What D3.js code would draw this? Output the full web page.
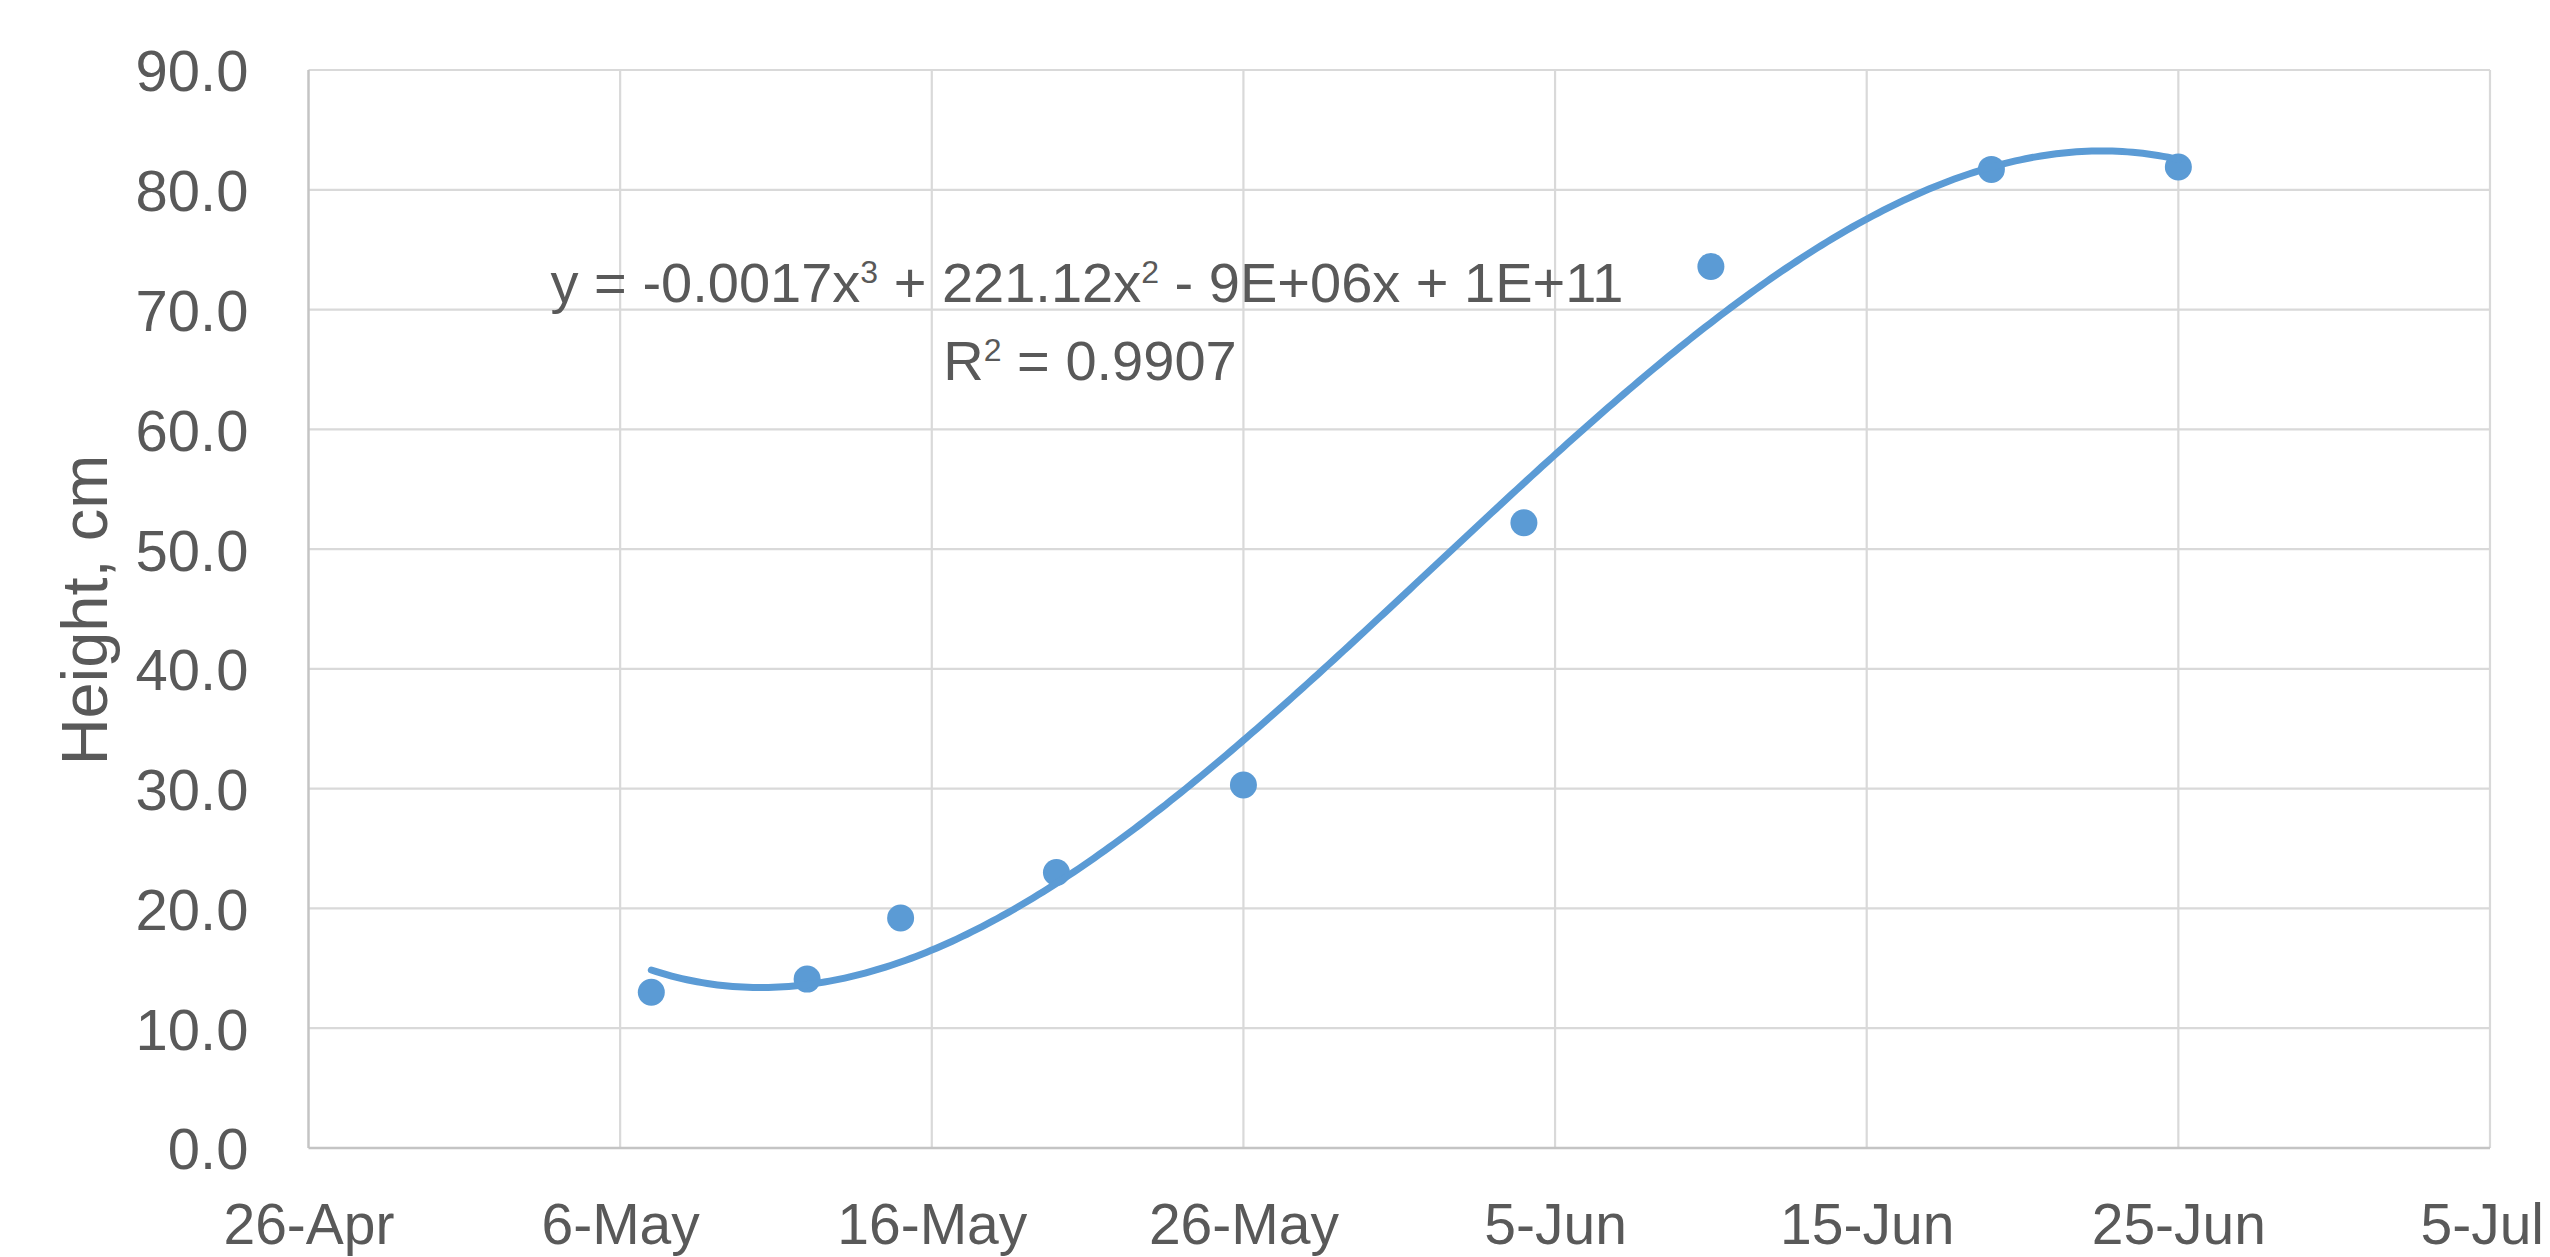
<!DOCTYPE html>
<html>
<head>
<meta charset="utf-8">
<script src="https://cdn.jsdelivr.net/npm/d3@7"></script>
<style>
  html, body { margin: 0; padding: 0; background: #fff; }
  svg { display: block; }
  text { font-family: "Liberation Sans", Arial, sans-serif; fill: #595959; }
</style>
</head>
<body>
<svg id="chart" width="2550" height="1257"></svg>
<script>
// ---- data ----
const dates = ["2019-05-07", "2019-05-12", "2019-05-15", "2019-05-20", "2019-05-26",
               "2019-06-04", "2019-06-10", "2019-06-19", "2019-06-25"];
const heights = [13.0, 14.1, 19.2, 23.0, 30.3, 52.2, 73.6, 81.7, 81.9];
const yTicks = [0, 10, 20, 30, 40, 50, 60, 70, 80, 90];
const xTickDates = ["2019-04-26", "2019-05-06", "2019-05-16", "2019-05-26", "2019-06-05",
                    "2019-06-15", "2019-06-25", "2019-07-05"];
const xTickLabels = ["26-Apr", "6-May", "16-May", "26-May", "5-Jun", "15-Jun", "25-Jun", "5-Jul"];
const yTitle = "Height, cm";
const eqParts = ["y = -0.0017x", "3", " + 221.12x", "2", " - 9E+06x + 1E+11"];
const r2Text = ["R", "2", " = 0.9907"];

// ---- layout ----
const W = 2550;
const plot = { left: 308.5, right: 2490, top: 70, bottom: 1148 };
const color = "#5B9BD5";

const svg = d3.select("#chart");
const parse = d3.utcParse("%Y-%m-%d");

const x = d3.scaleUtc()
  .domain([parse(xTickDates[0]), parse(xTickDates[xTickDates.length - 1])])
  .range([plot.left, plot.right]);
const y = d3.scaleLinear().domain([0, 90]).range([plot.bottom, plot.top]);

// gridlines
const grid = svg.append("g");
grid.selectAll("line.h").data(yTicks.slice(1)).enter().append("line")
  .attr("x1", plot.left).attr("x2", plot.right)
  .attr("y1", d => y(d)).attr("y2", d => y(d))
  .attr("stroke", "#d9d9d9").attr("stroke-width", 2.2);
grid.selectAll("line.v").data(xTickDates.slice(1)).enter().append("line")
  .attr("x1", d => x(parse(d))).attr("x2", d => x(parse(d)))
  .attr("y1", plot.top).attr("y2", plot.bottom)
  .attr("stroke", "#d9d9d9").attr("stroke-width", 2.2);

// axes lines
svg.append("line").attr("x1", plot.left).attr("x2", plot.right)
  .attr("y1", y(0)).attr("y2", y(0)).attr("stroke", "#c4c4c4").attr("stroke-width", 2.5);
svg.append("line").attr("x1", plot.left).attr("x2", plot.left)
  .attr("y1", plot.top).attr("y2", plot.bottom).attr("stroke", "#c4c4c4").attr("stroke-width", 2.5);

// y tick labels
const yAxis = d3.axisLeft(y).tickValues(yTicks).tickFormat(d3.format(".1f")).tickSize(0).tickPadding(60);
const gy = svg.append("g").attr("transform", `translate(${plot.left},0)`).call(yAxis);
gy.select(".domain").remove();
gy.selectAll("text").attr("font-size", 58).attr("fill", "#595959")
  .attr("font-family", "Liberation Sans, Arial, sans-serif").attr("dy", "0.36em");

// x tick labels
const xAxis = d3.axisBottom(x).tickValues(xTickDates.map(parse))
  .tickFormat((d, i) => xTickLabels[i]).tickSize(0).tickPadding(56);
const gx = svg.append("g").attr("transform", `translate(0,${plot.bottom})`).call(xAxis);
gx.select(".domain").remove();
gx.selectAll("text").attr("font-size", 57).attr("fill", "#595959")
  .attr("font-family", "Liberation Sans, Arial, sans-serif").attr("dy", "0.71em");
// keep a label that would run past the right page edge inside the page
gx.selectAll("text").each(function () {
  const t = d3.select(this);
  const len = this.getComputedTextLength();
  const cx = +d3.select(this.parentNode).attr("transform").match(/translate\(([-\d.]+)/)[1];
  if (cx + len / 2 > W - 6) {
    t.attr("text-anchor", "end").attr("x", W - 6 - cx);
  }
});

// y title
svg.append("text")
  .attr("transform", "translate(107,610) rotate(-90)")
  .attr("text-anchor", "middle")
  .attr("font-size", 65)
  .text(yTitle);

// ---- cubic least-squares trendline ----
const t0 = parse(dates[0]).getTime();
const DAY = 86400000;
const xs = dates.map(d => (parse(d).getTime() - t0) / DAY);
function polyfit(X, Y, deg) {
  const n = deg + 1;
  const A = Array.from({ length: n }, () => new Array(n + 1).fill(0));
  for (let k = 0; k < X.length; k++) {
    for (let i = 0; i < n; i++) {
      for (let j = 0; j < n; j++) A[i][j] += Math.pow(X[k], i + j);
      A[i][n] += Math.pow(X[k], i) * Y[k];
    }
  }
  for (let i = 0; i < n; i++) {
    let p = i;
    for (let r = i + 1; r < n; r++) if (Math.abs(A[r][i]) > Math.abs(A[p][i])) p = r;
    [A[i], A[p]] = [A[p], A[i]];
    for (let r = 0; r < n; r++) {
      if (r === i) continue;
      const f = A[r][i] / A[i][i];
      for (let c = i; c <= n; c++) A[r][c] -= f * A[i][c];
    }
  }
  return A.map((row, i) => row[n] / row[i]);
}
const coef = polyfit(xs, heights, 3);
const fx = t => coef[0] + coef[1] * t + coef[2] * t * t + coef[3] * t * t * t;
const tMax = xs[xs.length - 1];
const curve = d3.range(0, tMax + 0.001, tMax / 300).map(t => [t, fx(t)]);
const line = d3.line()
  .x(d => x(new Date(t0 + d[0] * DAY)))
  .y(d => y(d[1]))
  .curve(d3.curveLinear);

// points
svg.append("g").selectAll("circle").data(dates).enter().append("circle")
  .attr("cx", d => x(parse(d)))
  .attr("cy", (d, i) => y(heights[i]))
  .attr("r", 13.5)
  .attr("fill", color);

svg.append("path").datum(curve)
  .attr("d", line)
  .attr("fill", "none")
  .attr("stroke", color)
  .attr("stroke-width", 7)
  .attr("stroke-linecap", "round");

// equation + R²
const eq = svg.append("text").attr("x", 1087).attr("y", 302)
  .attr("text-anchor", "middle").attr("font-size", 56);
eqParts.forEach((p, i) => {
  const ts = eq.append("tspan").text(p);
  if (i % 2 === 1) ts.attr("font-size", 32).attr("dy", -19);
  else if (i > 0) ts.attr("dy", 19);
});
const r2 = svg.append("text").attr("x", 1090).attr("y", 380)
  .attr("text-anchor", "middle").attr("font-size", 56);
r2Text.forEach((p, i) => {
  const ts = r2.append("tspan").text(p);
  if (i === 1) ts.attr("font-size", 32).attr("dy", -19);
  else if (i === 2) ts.attr("dy", 19);
});
</script>
</body>
</html>
